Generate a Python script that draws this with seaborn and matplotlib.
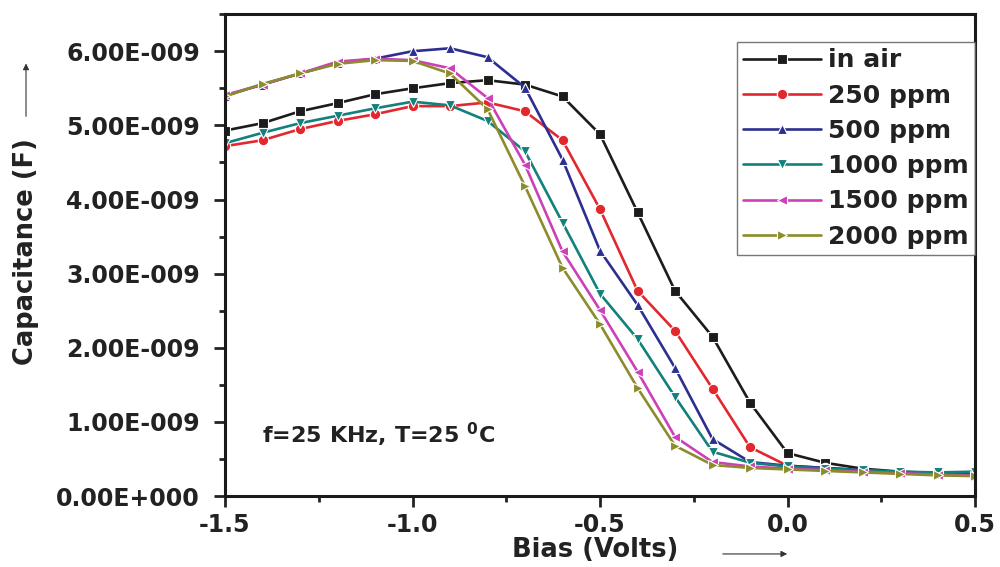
import numpy as np
import pandas as pd
import matplotlib
matplotlib.use("Agg")
import matplotlib.pyplot as plt
from matplotlib.ticker import FuncFormatter, MultipleLocator
from matplotlib.patches import FancyArrowPatch
import seaborn as sns

# datos (capacitancia en nF)
bias = [-1.5, -1.4, -1.3, -1.2, -1.1, -1.0, -0.9, -0.8, -0.7, -0.6, -0.5,
        -0.4, -0.3, -0.2, -0.1, 0.0, 0.1, 0.2, 0.3, 0.4, 0.5]
en_aire = [4.93, 5.03, 5.19, 5.30, 5.42, 5.50, 5.57, 5.61, 5.55, 5.39, 4.88,
           3.83, 2.77, 2.15, 1.26, 0.58, 0.45, 0.37, 0.33, 0.31, 0.29]
ppm_250 = [4.72, 4.80, 4.95, 5.06, 5.15, 5.26, 5.26, 5.31, 5.19, 4.80, 3.87,
           2.77, 2.23, 1.45, 0.66, 0.41, 0.38, 0.35, 0.32, 0.30, 0.29]
ppm_500 = [5.40, 5.55, 5.70, 5.84, 5.90, 6.00, 6.04, 5.92, 5.51, 4.54, 3.31,
           2.58, 1.73, 0.77, 0.46, 0.41, 0.38, 0.35, 0.32, 0.30, 0.29]
ppm_1000 = [4.76, 4.90, 5.03, 5.13, 5.23, 5.32, 5.27, 5.06, 4.65, 3.69, 2.73,
            2.12, 1.34, 0.60, 0.45, 0.40, 0.37, 0.35, 0.33, 0.32, 0.33]
ppm_1500 = [5.41, 5.55, 5.70, 5.86, 5.90, 5.88, 5.77, 5.37, 4.47, 3.30, 2.51,
            1.68, 0.80, 0.46, 0.40, 0.37, 0.35, 0.33, 0.31, 0.29, 0.28]
ppm_2000 = [5.39, 5.56, 5.70, 5.83, 5.88, 5.87, 5.70, 5.22, 4.18, 3.08, 2.32,
            1.46, 0.68, 0.42, 0.38, 0.36, 0.34, 0.32, 0.30, 0.28, 0.27]

etiquetas = ["in air", "250 ppm", "500 ppm", "1000 ppm", "1500 ppm", "2000 ppm"]
series = [en_aire, ppm_250, ppm_500, ppm_1000, ppm_1500, ppm_2000]
colores = ["#1c1c1c", "#e2282e", "#2c2f90", "#12807b", "#cc40b8", "#8c8c2c"]
marcadores = ["s", "o", "^", "v", "<", ">"]

filas = []
for etq, vals in zip(etiquetas, series):
    for b, v in zip(bias, vals):
        filas.append({"Bias": b, "C": v * 1e-9, "serie": etq})
df = pd.DataFrame(filas)

sns.set_style("ticks")
plt.rcParams["font.family"] = ["DejaVu Sans"]
plt.rcParams["font.weight"] = "bold"
plt.rcParams["mathtext.fontset"] = "dejavusans"

fig = plt.figure(figsize=(10, 5.67), dpi=100)
ax = fig.add_axes([0.225, 0.125, 0.75, 0.85])

sns.lineplot(data=df, x="Bias", y="C", hue="serie", style="serie",
             palette=dict(zip(etiquetas, colores)),
             markers=dict(zip(etiquetas, marcadores)), dashes=False,
             linewidth=1.9, markersize=7.5, markeredgewidth=0.8, ax=ax)

ax.set_xlim(-1.5, 0.5)
ax.set_ylim(0, 6.5e-9)
ax.xaxis.set_major_locator(MultipleLocator(0.5))
ax.xaxis.set_minor_locator(MultipleLocator(0.25))
ax.yaxis.set_major_locator(MultipleLocator(1e-9))
ax.yaxis.set_minor_locator(MultipleLocator(0.5e-9))


def fmt_y(v, pos):
    if abs(v) < 1e-15:
        return "0.00E+000"
    exp = int(np.floor(np.log10(abs(v))))
    man = v / 10 ** exp
    return f"{man:.2f}E{'-' if exp < 0 else '+'}{abs(exp):03d}"


ax.yaxis.set_major_formatter(FuncFormatter(fmt_y))
ax.xaxis.set_major_formatter(FuncFormatter(lambda v, p: f"{v:.1f}"))
ax.tick_params(which="major", length=8, width=2, labelsize=17,
               direction="out", pad=4, colors="#222222")
ax.tick_params(axis="y", which="major", pad=10)
ax.tick_params(which="minor", length=4.5, width=2, direction="out",
               colors="#222222")
for s in ax.spines.values():
    s.set_linewidth(2.2)
    s.set_color("#1a1a1a")

ax.set_xlabel("")
ax.set_ylabel("")
fig.text(0.595, 0.030, "Bias (Volts)", ha="center", va="center",
         fontsize=18.5, fontweight="bold", color="#222222")
fig.text(0.026, 0.556, "Capacitance (F)", rotation=90, ha="center",
         va="center", fontsize=18.5, fontweight="bold", color="#222222")
fig.add_artist(FancyArrowPatch(
    (0.72, 0.023), (0.79, 0.023), transform=fig.transFigure,
    arrowstyle="-|>", mutation_scale=9, lw=0.8, color="#333333"))
fig.add_artist(FancyArrowPatch(
    (0.026, 0.79), (0.026, 0.893), transform=fig.transFigure,
    arrowstyle="-|>", mutation_scale=9, lw=0.8, color="#333333"))

ax.text(-1.4, 0.72e-9, r"f=25 KHz, T=25 $^{\mathbf{0}}$C",
        fontsize=16, fontweight="bold", color="#222222")

h, l = ax.get_legend_handles_labels()
leg = ax.legend(h, l, loc="upper right", bbox_to_anchor=(1.0, 0.942),
                frameon=True, fancybox=False, edgecolor="#555555",
                fontsize=18, handlelength=3.1, handletextpad=0.3,
                labelspacing=0.45, borderpad=0.25, borderaxespad=0)
leg.get_frame().set_linewidth(1.0)
for t in leg.get_texts():
    t.set_fontweight("bold")
    t.set_color("#222222")

fig.savefig("out.png", dpi=100)
